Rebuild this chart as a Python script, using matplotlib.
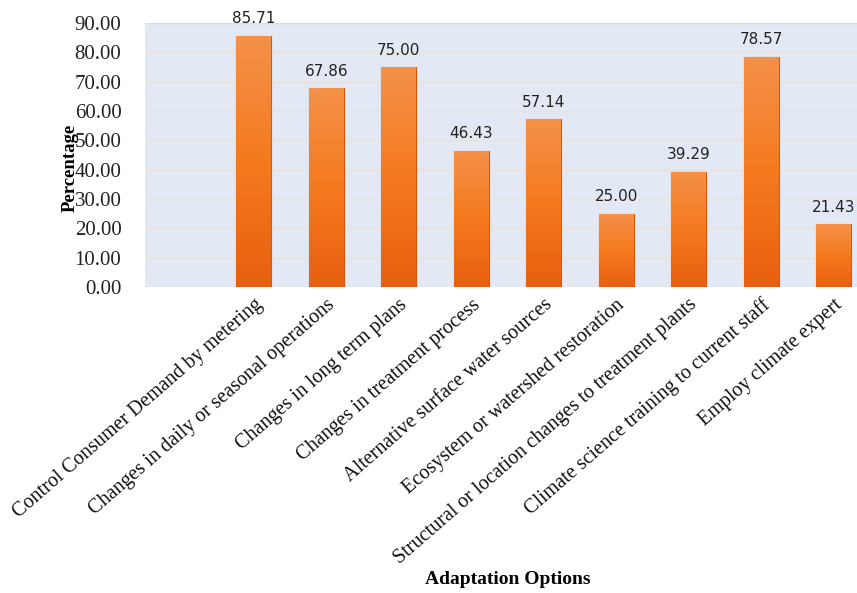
import matplotlib
matplotlib.use("Agg")
import matplotlib.pyplot as plt
import numpy as np
from matplotlib.colors import LinearSegmentedColormap

categories = [
    "Control Consumer Demand by metering",
    "Changes in daily or seasonal operations",
    "Changes in long term plans",
    "Changes in treatment process",
    "Alternative surface water sources",
    "Ecosystem or watershed restoration",
    "Structural or location changes to treatment plants",
    "Climate science training to current staff",
    "Employ climate expert",
]
values = [85.71, 67.86, 75.00, 46.43, 57.14, 25.00, 39.29, 78.57, 21.43]
yticks = [0, 10, 20, 30, 40, 50, 60, 70, 80, 90]

fig = plt.figure(figsize=(8.57, 5.93), dpi=100)
ax = fig.add_axes([145/857, 1-287/593, (870-145)/857, (287-23)/593])
ax.set_facecolor("#E3E9F4")

x = np.arange(1, len(categories) + 1)
width = 0.48
bars = ax.bar(x, values, width=width, color="#F07A25", edgecolor="#D9560A",
              linewidth=0.8, zorder=3)

cmap = LinearSegmentedColormap.from_list("og", ["#E85F10", "#F57A1E", "#F4914A"])
grad = np.linspace(0, 1, 256).reshape(-1, 1)
for b in bars:
    x0, w, h = b.get_x(), b.get_width(), b.get_height()
    im = ax.imshow(grad, cmap=cmap, origin="lower", aspect="auto",
                   extent=[x0, x0 + w, 0, h], zorder=3.5)
    im.set_clip_path(b)
    ax.text(b.get_x() + w/2, h + 3.2, f"{h:.2f}", ha="center", va="bottom",
            fontsize=11, color="#222222", family="DejaVu Sans", zorder=5)

ax.set_xlim(-0.5, 9.5)
ax.set_ylim(0, 90)
ax.set_yticks(yticks)
ax.set_yticklabels([f"{v:.2f}" for v in yticks], family="Liberation Serif",
                   fontsize=15, color="#222222")
ax.yaxis.grid(True, color="#EAE0D8", linewidth=1.0, zorder=1)
ax.set_axisbelow(True)
ax.tick_params(axis="y", length=0, pad=17)
ax.tick_params(axis="x", length=0, pad=6)
for s in ax.spines.values():
    s.set_visible(False)
ax.axhline(90, color="#D8DCE4", linewidth=1.0, zorder=2)

ax.set_xticks(x)
ax.set_xticklabels(categories, rotation=41, ha="right", va="top",
                   rotation_mode="anchor", family="Liberation Serif",
                   fontsize=14.5, color="#111111")

fig.text(70/857, 1-168/593, "Percentage", rotation=90, ha="center", va="center",
         family="Liberation Serif", fontweight="bold", fontsize=13.5)
fig.text(508/857, 1-580/593, "Adaptation Options", ha="center", va="center",
         family="Liberation Serif", fontweight="bold", fontsize=14)

fig.savefig("out.png", dpi=100)
